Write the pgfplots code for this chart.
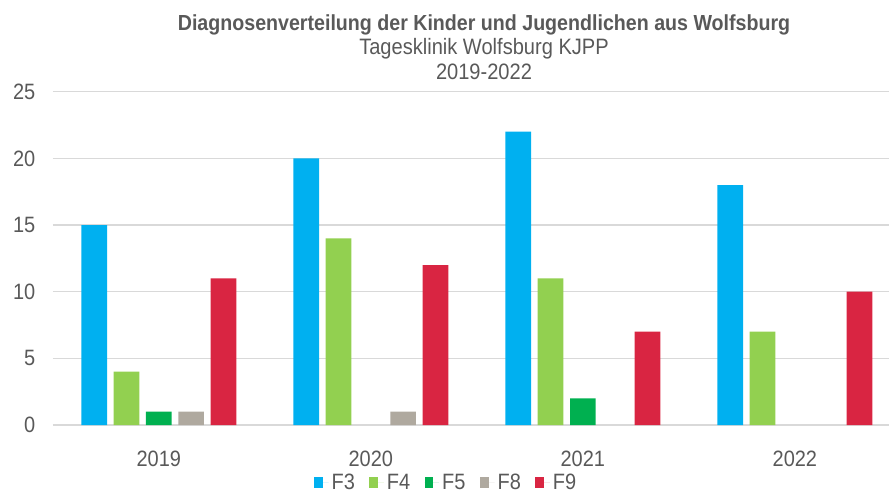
\documentclass[border=0pt]{standalone}
\usepackage{fontspec}
\setmainfont{Liberation Sans}[FakeStretch=0.9]
\usepackage{pgfplots}
\pgfplotsset{compat=1.18}
\definecolor{cF3}{HTML}{00B0F0}
\definecolor{cF4}{HTML}{92D050}
\definecolor{cF5}{HTML}{00B050}
\definecolor{cF8}{HTML}{AFA99F}
\definecolor{cF9}{HTML}{D92542}
\definecolor{txt}{HTML}{595959}
\definecolor{grd}{HTML}{D9D9D9}
\newcommand{\lbl}{\fontsize{22.2bp}{26bp}\selectfont}

\begin{document}
\begin{tikzpicture}
\begin{axis}[
  scale only axis, width=836.2bp, height=333.3bp,
  xmin=-0.5, xmax=3.444, ymin=0, ymax=25,
  ybar=6.6bp, bar width=25.7bp,
  xtick={0,1,2,3}, xticklabels={2019,2020,2021,2022},
  ytick={0,5,...,25},
  ymajorgrids, grid style={grd, line width=1.3bp},
  axis x line*=bottom, axis y line*=left,
  x axis line style={grd, line width=1.3bp, -},
  y axis line style={draw=none},
  tick style={draw=none},
  /pgf/number format/assume math mode=true,
  tick label style={font=\lbl, text=txt},
  yticklabel style={anchor=east, xshift=-14bp},
  xticklabel style={anchor=base, yshift=-37bp},
  legend style={at={(0.471,-0.174)}, anchor=center, draw=none, fill=none,
    legend columns=5, font=\lbl, text=txt, inner sep=0pt,
    nodes={inner sep=3bp},
    /tikz/every even column/.append style={column sep=11.5bp}},
  legend cell align=left,
  legend image code/.code={\fill[#1, draw=none] (0bp,-5.5bp) rectangle (8.5bp,5.5bp);
    \path (0bp,0bp) -- (14.5bp,0bp);},
]
\addplot[fill=cF3, draw=none] coordinates {(0,15) (1,20) (2,22) (3,18)};
\addlegendentry{F3}
\addplot[fill=cF4, draw=none] coordinates {(0,4) (1,14) (2,11) (3,7)};
\addlegendentry{F4}
\addplot[fill=cF5, draw=none] coordinates {(0,1) (2,2)};
\addlegendentry{F5}
\addplot[fill=cF8, draw=none] coordinates {(0,1) (1,1)};
\addlegendentry{F8}
\addplot[fill=cF9, draw=none] coordinates {(0,11) (1,12) (2,7) (3,10)};
\addlegendentry{F9}
\end{axis}
\node[anchor=base, text=txt, font=\bfseries\fontsize{21.8bp}{26bp}\selectfont] at (431.2bp,394bp) {Diagnosenverteilung der Kinder und Jugendlichen aus Wolfsburg};
\node[anchor=base, text=txt, font=\fontsize{22.3bp}{26bp}\selectfont] at (431.2bp,370bp) {Tagesklinik Wolfsburg KJPP};
\node[anchor=base, text=txt, font=\fontsize{22.3bp}{26bp}\selectfont] at (431.2bp,345bp) {2019-2022};
\pgfresetboundingbox
\path[use as bounding box] (-52.8bp,-70bp) rectangle (836.2bp,425bp);
\end{tikzpicture}
\end{document}
